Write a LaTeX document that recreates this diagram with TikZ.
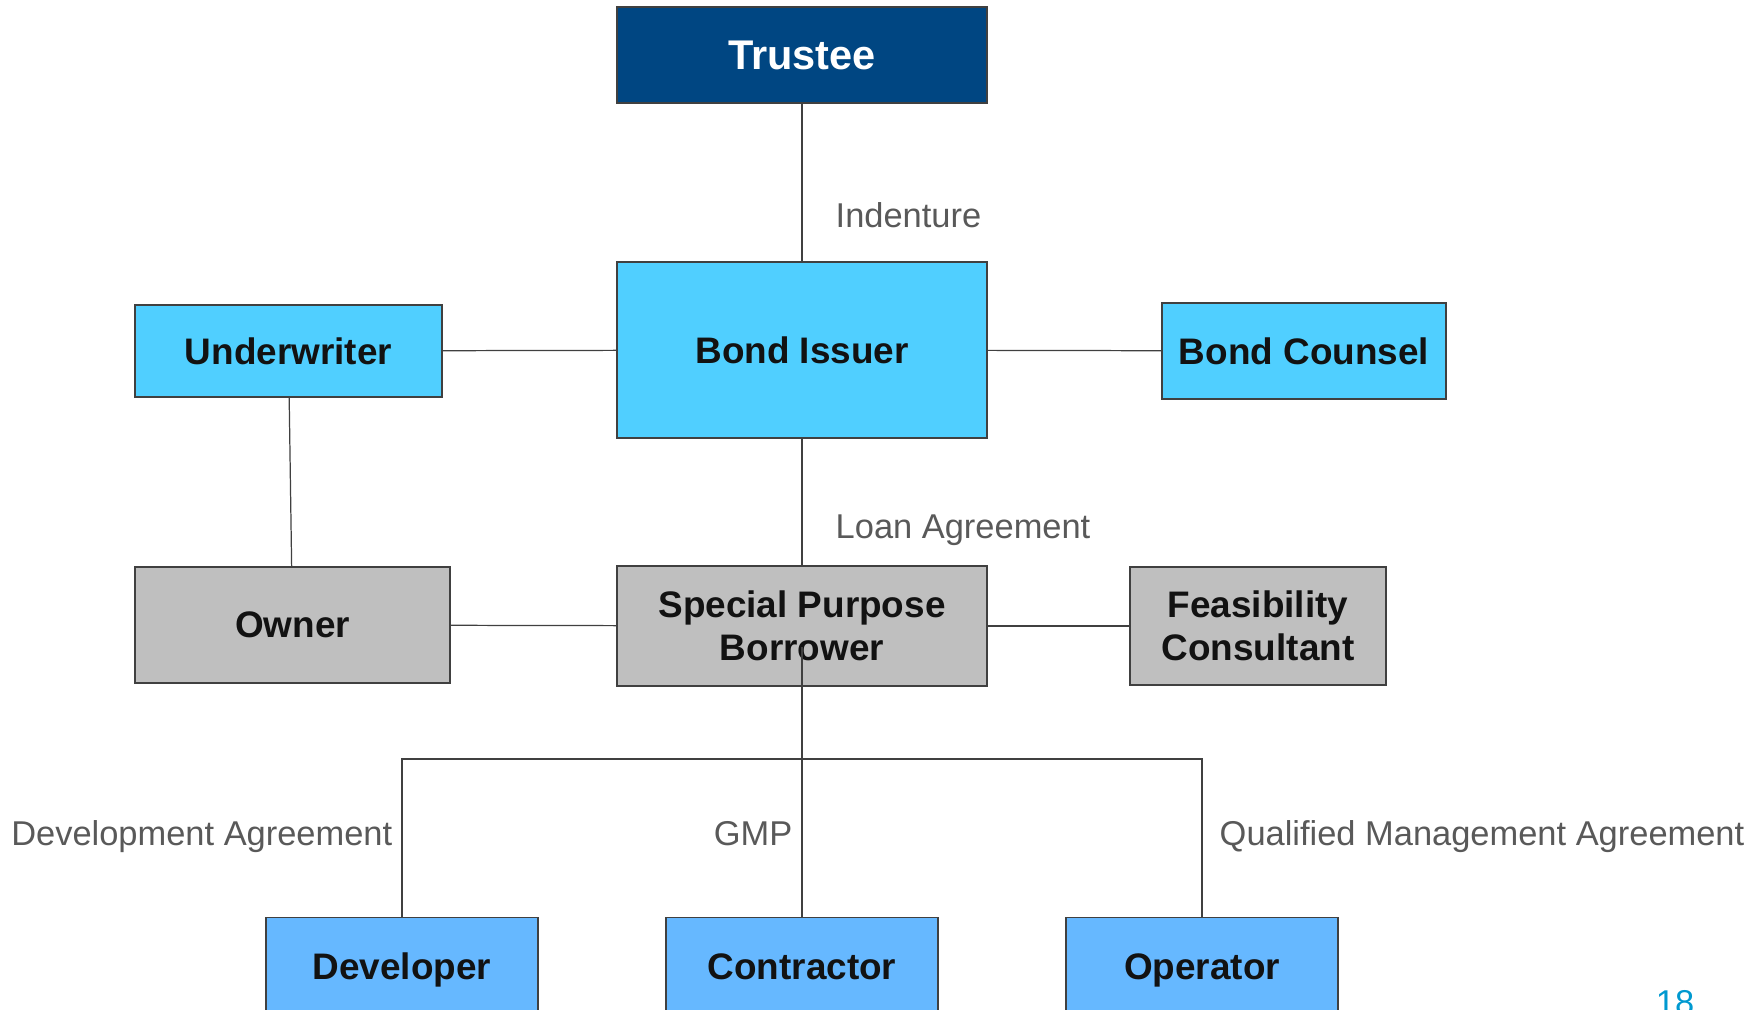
\documentclass[tikz,border=0pt]{standalone}
\usepackage{fontspec}
\setmainfont{Liberation Sans}
\usetikzlibrary{positioning, calc}

\definecolor{trusteeblue}{HTML}{004682}
\definecolor{issuercyan}{HTML}{50CFFF}
\definecolor{partyblue}{HTML}{66B8FF}
\definecolor{boxgray}{HTML}{BFBFBF}
\definecolor{linegray}{HTML}{404040}
\definecolor{labelgray}{HTML}{595959}
\definecolor{pageblue}{HTML}{0099D0}

\begin{document}
\begin{tikzpicture}[x=0.1mm, y=-0.1mm,
    party/.style={rectangle, draw=linegray, line width=0.4pt, fill=issuercyan, font=\fontsize{10.5}{12.4}\selectfont\bfseries, text=black!93, align=center, inner sep=2pt},
    borrower/.style={party, fill=boxgray},
    provider/.style={party, fill=partyblue, minimum width=27.2mm, minimum height=10.6mm, text height=0.72em, text depth=0.2em, anchor=north},
    link/.style={linegray, line width=0.35pt},
    agreement/.style={font=\fontsize{9.8}{11.5}\selectfont, text=labelgray, inner sep=0pt, text height=0.72em, text depth=0.21em},
]

\useasboundingbox (0,0) rectangle (1751,1010);
\clip (0,0) rectangle (1751,1010);

% === TOP: TRUSTEE AND ISSUER ===
\node[party, fill=trusteeblue, text=white, font=\fontsize{11.8}{14}\selectfont\bfseries, minimum width=37mm, minimum height=9.6mm] (trustee) at (802,55) {Trustee};
\node[party, minimum width=37mm, minimum height=17.6mm] (issuer) at (802,350) {Bond Issuer};
\node[party, minimum width=30.7mm, minimum height=9.2mm] (underwriter) at (288.5,351) {Underwriter};
\node[party, minimum width=28.4mm, minimum height=9.6mm] (counsel) at (1304,351) {Bond Counsel};

% === MIDDLE: BORROWER ROW ===
\node[borrower, minimum width=31.5mm, minimum height=11.6mm] (owner) at (292.5,625) {Owner};
\node[borrower, minimum width=37mm, minimum height=12mm] (spb) at (802,626) {Special Purpose\\Borrower};
\node[borrower, minimum width=25.6mm, minimum height=11.8mm] (feasibility) at (1258,626) {Feasibility\\Consultant};

% === BOTTOM: SERVICE PROVIDERS ===
\node[provider] (developer) at (402,917) {Developer};
\node[provider] (contractor) at (802,917) {Contractor};
\node[provider] (operator) at (1202,917) {Operator};

% === CONNECTORS ===
\draw[link] (trustee) -- (issuer);
\draw[link] (underwriter) -- (issuer);
\draw[link] (issuer) -- (counsel);
\draw[link] (issuer) -- (spb);
\draw[link] (underwriter) -- (owner);
\draw[link] (owner) -- (spb);
\draw[link] (spb) -- (feasibility);

% borrower feeds the three agreements through one bus
\coordinate (tap) at ($(spb.center)+(0,21)$);
\coordinate (bus) at (802,759);
\draw[link] (tap) -- (contractor.north);
\draw[link] (developer.north) -- (developer.north |- bus) -- (operator.north |- bus) -- (operator.north);

% === AGREEMENT LABELS ===
\node[agreement, anchor=west] (indenture) at (835,219) {Indenture};
\node[agreement, anchor=west] (loan) at (835,530) {Loan Agreement};
\node[agreement, anchor=east] (devagr) at (393,837) {Development Agreement};
\node[agreement, anchor=east] (gmp) at (793,837) {GMP};
\node[agreement, anchor=west] (qma) at (1219,837) {Qualified Management Agreement};

% page number
\node[agreement, text=pageblue] (page) at (1675,1006) {18};

\end{tikzpicture}
\end{document}
